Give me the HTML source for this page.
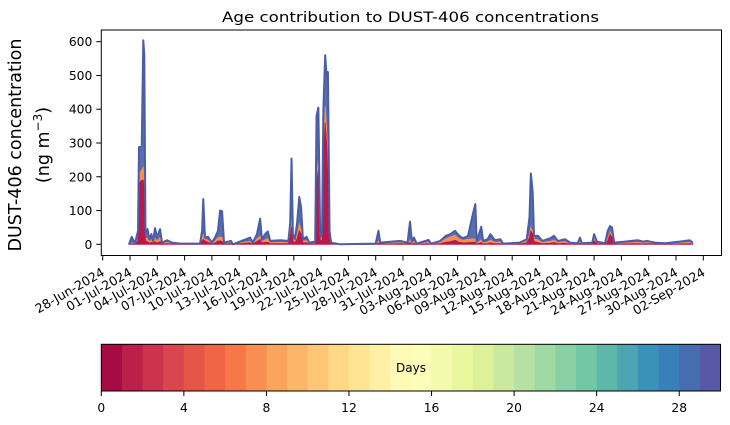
<!DOCTYPE html>
<html><head><meta charset="utf-8"><style>
html,body{margin:0;padding:0;background:#fff;}
svg{display:block;font-family:"DejaVu Sans","Liberation Sans",sans-serif;}
</style></head><body>
<svg id="chart" width="730" height="425" viewBox="0 0 730 425" xmlns="http://www.w3.org/2000/svg">
<text x="410.5" y="22" text-anchor="middle" font-size="14.5" textLength="377" lengthAdjust="spacingAndGlyphs">Age contribution to DUST-406 concentrations</text>
<text transform="translate(21,145) rotate(-90)" text-anchor="middle" font-size="17.5">DUST-406 concentration</text>
<text transform="translate(49,145) rotate(-90)" text-anchor="middle" font-size="17.5">(ng m<tspan dy="-7" font-size="12">−3</tspan><tspan dy="7">)</tspan></text>
<g id="plot"></g>
<g id="xaxis"></g>
<g id="yaxis"></g>
<g id="cbar"></g>
</svg>
<script>
// Day offset from 28-Jun-2024 00:00
const days=[2.89,3.19,3.55,3.88,3.99,4.29,4.46,4.57,4.70,4.92,5.14,5.36,5.53,5.75,5.97,6.30,6.52,7.07,7.62,8.5,10.7,10.92,11.05,11.24,11.57,12.0,12.34,12.67,12.9,13.12,13.33,14.1,14.3,16.2,16.5,16.95,17.3,17.5,17.9,18.15,18.4,19.5,20.4,20.6,20.75,20.9,21.1,21.35,21.6,21.8,22.0,22.4,22.7,23.35,23.5,23.7,23.9,24.1,24.25,24.45,24.6,24.75,24.93,25.1,26.1,30.0,30.3,30.5,31.8,32.7,33.5,33.77,33.98,34.2,34.5,35.8,36.1,37.1,37.7,38.2,38.7,39.2,39.6,40.15,40.7,40.95,41.1,41.6,41.8,42.3,42.6,43.1,43.7,44.0,45.8,46.6,46.9,47.05,47.25,47.4,47.85,48.3,49.2,49.6,50.0,50.8,51.35,52.2,52.45,52.65,53.8,54.0,54.3,55.2,55.5,55.75,55.97,56.2,57.4,58.8,59.4,59.8,60.7,61.8,63.4,64.5,64.85];
const totalConc=[0,22,3,40,288,290,604,560,35,45,15,30,8,48,20,45,5,12,5,2,2,40,134,20,22,5,20,40,100,98,5,10,0,20,5,30,76,15,32,38,10,12,10,60,254,30,15,60,140,110,15,22,5,8,380,405,25,30,400,560,500,510,40,5,0,2,40,5,8,10,5,67,8,20,2,13,2,10,25,30,40,25,18,25,92,119,8,52,10,15,30,12,15,2,5,15,80,210,155,25,25,10,18,25,10,15,5,3,20,3,5,30,8,3,40,54,50,5,8,12,8,10,5,3,8,12,5];
// age 0-3 days contribution
const youngConc=[0,1,0,10,180,190,190,150,10,8,3,6,2,8,4,8,1,2,1,0,0,10,14,10,6,1,4,10,10,8,1,2,0,4,1,8,14,4,6,6,2,2,2,20,50,10,4,15,40,30,4,5,1,2,180,220,10,12,250,360,300,200,15,1,0,0,4,1,1,2,1,5,1,3,0,2,0,2,6,8,12,6,4,5,6,6,1,5,1,2,4,2,2,0,1,4,20,40,30,8,5,2,3,5,2,3,1,0,3,0,1,10,2,0,10,30,20,1,1,2,1,2,1,0,1,2,1];
// age 4-14 days contribution
const midConc=[0,3,1,5,30,30,40,40,8,10,4,8,2,10,5,12,2,4,2,1,1,6,15,5,6,2,6,10,12,12,1,3,0,5,2,8,10,4,8,10,3,4,3,10,25,8,5,12,20,15,5,6,2,3,30,30,8,8,40,50,50,40,8,2,0,1,6,1,3,3,2,8,3,5,1,4,1,4,10,14,15,10,8,10,10,10,3,8,3,5,8,4,5,1,2,5,8,10,10,8,8,4,6,8,4,5,2,1,5,1,2,8,3,1,8,8,8,2,3,4,3,4,2,1,3,4,2];
const yTicks=[0,100,200,300,400,500,600];
const xTickLabels=["28-Jun-2024","01-Jul-2024","04-Jul-2024","07-Jul-2024","10-Jul-2024","13-Jul-2024","16-Jul-2024","19-Jul-2024","22-Jul-2024","25-Jul-2024","28-Jul-2024","31-Jul-2024","03-Aug-2024","06-Aug-2024","09-Aug-2024","12-Aug-2024","15-Aug-2024","18-Aug-2024","21-Aug-2024","24-Aug-2024","27-Aug-2024","30-Aug-2024","02-Sep-2024"];
const cbTicks=[0,4,8,12,16,20,24,28];

const NS="http://www.w3.org/2000/svg";
function mk(tag,attrs,parent){const e=document.createElementNS(NS,tag);for(const k in attrs)e.setAttribute(k,attrs[k]);parent.appendChild(e);return e;}
const L=101.3,R=721.5,T=30,B=255.5;
const xS=d=>102.7+d*27.3/3;
const yS=v=>244.3-v*(202.6/600);
const plot=document.getElementById('plot'),xa=document.getElementById('xaxis'),ya=document.getElementById('yaxis'),cb=document.getElementById('cbar');

function area(lower,upper,fill,name){
  let p="M"+days.map((d,i)=>xS(d).toFixed(2)+","+yS(upper[i]).toFixed(2)).join(" L");
  for(let i=days.length-1;i>=0;i--)p+=" L"+xS(days[i]).toFixed(2)+","+yS(lower[i]).toFixed(2);
  const e=mk('path',{d:p+"Z",fill:fill,stroke:fill,'stroke-width':0.8},plot);
  
  
}
const zero=days.map(()=>0);
const youngTop=youngConc.slice();
const midTop=youngConc.map((v,i)=>v+midConc[i]);
area(midTop,totalConc,'#5a6eae','area-old-age');
area(youngTop,midTop,'#f98e52','area-mid-age');
area(zero,youngTop,'#b8194b','area-young-age');
const line=mk('path',{d:"M"+days.map((d,i)=>xS(d).toFixed(2)+","+yS(totalConc[i]).toFixed(2)).join(" L"),fill:'none',stroke:'#4a5ea8','stroke-width':2,'stroke-linejoin':'round'},plot);


const fr=mk('rect',{x:L,y:T,width:R-L,height:B-T,fill:'none',stroke:'#000','stroke-width':1},plot);



yTicks.forEach(v=>{
  const y=yS(v);
  const t=mk('line',{x1:L-5,x2:L,y1:y,y2:y,stroke:'#000','stroke-width':1},ya);
  
  
  const l=mk('text',{x:L-9,y:y+4.5,'text-anchor':'end','font-size':12.3},ya);
  l.textContent=v;
  
  
});
xTickLabels.forEach((s,i)=>{
  const x=xS(i*3);
  const t=mk('line',{x1:x,x2:x,y1:B,y2:B+5,stroke:'#000','stroke-width':1},xa);
  
  
  const l=mk('text',{transform:`translate(${x-2},${B+11}) rotate(-30)`,'text-anchor':'end','font-size':12.6,'dominant-baseline':'hanging'},xa);
  l.textContent=s;
  
  
});

// Spectral colormap
const spec=["#9e0142","#d53e4f","#f46d43","#fdae61","#fee08b","#ffffbf","#e6f598","#abdda4","#66c2a5","#3288bd","#5e4fa2"];
function hex(h){return [1,3,5].map(k=>parseInt(h.substr(k,2),16));}
function cmap(t){const s=t*10,i=Math.min(9,Math.floor(s)),f=s-i;const a=hex(spec[i]),b=hex(spec[i+1]);return `rgb(${a.map((v,k)=>Math.round(v+(b[k]-v)*f)).join(',')})`;}
const cL=101.3,cR=720.5,cT=344.3,cB=391;
const cx=v=>cL+(cR-cL)*v/30;
for(let k=0;k<30;k++){
  const r=mk('rect',{x:cx(k),y:cT,width:cx(k+1)-cx(k)+0.5,height:cB-cT,fill:cmap((k+0.5)/30)},cb);
  
  
}
const cf=mk('rect',{x:cL,y:cT,width:cR-cL,height:cB-cT,fill:'none',stroke:'#000','stroke-width':1},cb);


cbTicks.forEach(v=>{
  const x=cx(v);
  const t=mk('line',{x1:x,x2:x,y1:cB,y2:cB+5,stroke:'#000','stroke-width':1},cb);
  
  
  const l=mk('text',{x:x,y:cB+21,'text-anchor':'middle','font-size':12.3},cb);
  l.textContent=v;
  
  
});
const dl=mk('text',{x:411,y:372,'text-anchor':'middle','font-size':12},cb);
dl.textContent="Days";


</script>
</body></html>
